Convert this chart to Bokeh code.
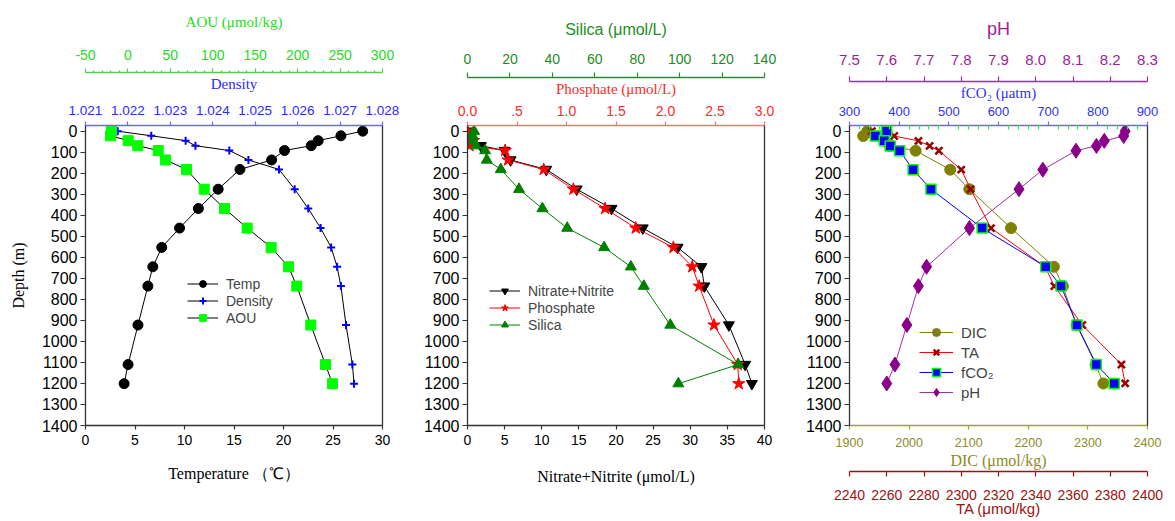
from bokeh.plotting import figure
from bokeh.models import (Range1d, LinearAxis, FixedTicker, PrintfTickFormatter,
                          CustomJSTickFormatter, Legend, LegendItem, Label)
from bokeh.layouts import row
from bokeh.embed import file_html
from bokeh.resources import INLINE

SANS = "Liberation Sans"
SERIF = "Liberation Serif"

# ---------------- data ----------------
depth_ab = [0, 22, 45, 69, 92, 137, 182, 276, 368, 461, 553, 645, 737, 922, 1110, 1201]
temperature = [28.0, 25.8, 23.5, 22.8, 20.1, 18.8, 15.6, 13.4, 11.4, 9.5, 7.7, 6.8, 6.3, 5.3, 4.3, 3.9]
density = [1.02176, 1.02255, 1.02336, 1.02359, 1.02439, 1.02484, 1.02556, 1.02593,
           1.02625, 1.02654, 1.02679, 1.02693, 1.02702, 1.02714, 1.02729, 1.02733]
aou = [-19.4, -20.5, 0.3, 11.6, 35.7, 44.3, 69.0, 89.9, 113.8, 140.5, 168.8, 189.2,
       199.0, 215.5, 232.8, 241.0]

nitrate_nitrite = [0.1, 0.2, 0.4, 1.8, 5.0, 5.8, 10.6, 14.7, 19.4, 23.6, 28.3, 31.5,
                   31.9, 35.2, 37.4, 38.3]
phosphate = [0.0, 0.03, 0.06, 0.02, 0.38, 0.41, 0.77, 1.07, 1.39, 1.70, 2.08, 2.27,
             2.34, 2.49, 2.73, 2.74]
silica = [3.1, 2.4, 2.8, 4.0, 8.3, 9.1, 15.7, 24.3, 35.3, 47.0, 64.4, 77.0, 83.1,
          95.6, 127.6, 99.4]

depth_c = [0, 23, 46, 70, 93, 183, 276, 461, 645, 737, 922, 1110, 1200]
dic = [1930, 1923, 1958, 1968, 2011, 2069, 2101, 2171, 2243, 2258, 2281, 2313, 2326]
ta = [2252, 2264, 2277, 2283, 2288, 2300, 2305, 2316, 2345, 2350, 2365, 2386, 2388]
fco2 = [375, 352, 370, 382, 401, 428, 464, 567, 695, 726, 758, 797, 833]
ph = [8.240, 8.236, 8.184, 8.163, 8.108, 8.019, 7.955, 7.822, 7.707, 7.685, 7.654,
      7.622, 7.600]

depth_ticks = list(range(0, 1401, 100))
temp_ticks = list(range(0, 31, 5))
density_ticks = [1.021, 1.022, 1.023, 1.024, 1.025, 1.026, 1.027, 1.028]
aou_ticks = list(range(-50, 301, 50))
aou_minor = [v for v in range(-50, 301, 10) if v % 50 != 0]
nitrate_ticks = list(range(0, 41, 5))
phosphate_ticks = [0.0, 0.5, 1.0, 1.5, 2.0, 2.5, 3.0]
silica_ticks = list(range(0, 141, 20))
dic_ticks = list(range(1900, 2401, 100))
ta_ticks = list(range(2240, 2401, 20))
fco2_ticks = list(range(300, 901, 100))
fco2_minor = [v for v in range(300, 901, 20) if v % 100 != 0]
ph_ticks = [7.5, 7.6, 7.7, 7.8, 7.9, 8.0, 8.1, 8.2, 8.3]

# ---------------- colours ----------------
AOU_T, AOU_L = "#22DD22", "#55CC55"
DEN_T, DEN_L = "#2B2BFF", "#6A6AFF"
PHO_T, PHO_L = "#FF2A2A", "#FF7070"
SIL_T, SIL_L = "#1E8C1E", "#2E8B2E"
PH_T, PH_L = "#A01E96", "#A0309A"
FCO_T, FCO_L = "#3030FF", "#6A6AFF"
DIC_T, DIC_L = "#8C8C1E", "#A0A040"
TA_T, TA_L = "#A01010", "#A01010"
AX = "#333333"

H = 520


def style(ax, color, line_color, ticks, tick_size, label, label_font, label_size,
          tick_out, lab_standoff, title_standoff, minor=None, minor_color=None,
          minor_in=0, minor_out=0, fmt=None, tick_font=SANS):
    ax.ticker = FixedTicker(ticks=ticks, minor_ticks=minor or [])
    if fmt is not None:
        ax.formatter = fmt
    ax.axis_line_color = line_color
    ax.axis_line_width = 1.3
    ax.major_tick_line_color = line_color
    ax.major_tick_line_width = 1.2
    ax.major_tick_out = tick_out
    ax.major_tick_in = 0
    if minor:
        ax.minor_tick_line_color = minor_color or line_color
        ax.minor_tick_line_width = 1.2
        ax.minor_tick_in = minor_in
        ax.minor_tick_out = minor_out
    else:
        ax.minor_tick_line_color = None
        ax.minor_tick_in = 0
        ax.minor_tick_out = 0
    ax.major_label_text_color = color
    ax.major_label_text_font = tick_font
    ax.major_label_text_font_size = tick_size
    ax.major_label_standoff = lab_standoff
    if label:
        ax.axis_label = label
        ax.axis_label_text_color = color
        ax.axis_label_text_font = label_font
        ax.axis_label_text_font_size = label_size
        ax.axis_label_text_font_style = "normal"
        ax.axis_label_standoff = title_standoff


def spacer(h):
    return LinearAxis(ticker=FixedTicker(ticks=[]), axis_line_color=None,
                      major_tick_out=h, major_tick_in=0, minor_tick_out=0,
                      minor_tick_in=0, major_tick_line_color=None,
                      minor_tick_line_color=None, major_label_standoff=0)


def make_fig(width, left, right, xr):
    p = figure(width=width, height=H, x_range=xr, y_range=Range1d(1400, -27),
               output_backend="svg", toolbar_location=None,
               min_border_left=left, min_border_right=right,
               min_border_top=125, min_border_bottom=H - 125 - 300)
    p.xgrid.visible = False
    p.ygrid.visible = False
    p.outline_line_color = None
    right_ax = LinearAxis(ticker=FixedTicker(ticks=[]), axis_line_color=AX,
                          axis_line_width=1.3, major_tick_out=0, major_tick_in=0,
                          minor_tick_out=0, minor_tick_in=0, major_label_standoff=0)
    p.add_layout(right_ax, "right")
    return p


def style_depth(p, with_label):
    style(p.yaxis[0], "black", AX, depth_ticks, "16px",
          "Depth (m)" if with_label else None, SERIF, "16px", 5, 3, 12)


def make_legend(items, loc, lh, gw, size):
    return Legend(items=items, location=loc, orientation="vertical",
                  border_line_color=None, background_fill_alpha=0, padding=0,
                  margin=0, spacing=0, label_height=lh, glyph_height=lh,
                  glyph_width=gw, label_standoff=8, label_text_font=SANS,
                  label_text_font_size=size)


def panel_label(p, x, text):
    p.add_layout(Label(x=x, y=-8, text=text, text_font=SANS, text_font_size="15px",
                       text_baseline="middle", text_align="left", text_color="black"))


# ================= panel (a) =================
pa = make_fig(420, 85, 38, Range1d(0, 30))
pa.extra_x_ranges = {"den": Range1d(1.021, 1.028), "aou": Range1d(-50, 300)}
style_depth(pa, True)
style(pa.xaxis[0], "black", AX, temp_ticks, "14px", "Temperature （℃）", SERIF, "16px",
      4, 5, 17)
ax_den = LinearAxis(x_range_name="den")
style(ax_den, DEN_T, DEN_L, density_ticks, "13.5px", "Density", SERIF, "15px", 4, 7, 11,
      fmt=PrintfTickFormatter(format="%.3f"))
ax_aou = LinearAxis(x_range_name="aou")
style(ax_aou, AOU_T, AOU_L, aou_ticks, "14px", "AOU (μmol/kg)", SERIF, "15px", 4, 9, 17,
      minor=aou_minor, minor_out=2, fmt=PrintfTickFormatter(format="%d"))
pa.add_layout(ax_den, "above")
pa.add_layout(spacer(12), "above")
pa.add_layout(ax_aou, "above")

l_t = pa.line(temperature, depth_ab, line_color="black", line_width=1)
s_t = pa.scatter(temperature, depth_ab, marker="circle", size=10, fill_color="black",
                 line_color="black")
l_d = pa.line(density, depth_ab, x_range_name="den", line_color="black", line_width=1)
s_d = pa.scatter(density, depth_ab, x_range_name="den", marker="cross", size=8,
                 line_color="#0000FF", line_width=2)
l_a = pa.line(aou, depth_ab, x_range_name="aou", line_color="black", line_width=1)
s_a = pa.scatter(aou, depth_ab, x_range_name="aou", marker="square", size=10,
                 fill_color="#00FF00", line_color="#00FF00")
pa.add_layout(make_legend([LegendItem(label="Temp", renderers=[l_t, s_t]),
                           LegendItem(label="Density", renderers=[l_d, s_d]),
                           LegendItem(label="AOU", renderers=[l_a, s_a])],
                          (102, 99), 17, 31, "14px"))
panel_label(pa, 30.5, "(a)")

# ================= panel (b) =================
pb = make_fig(380, 47, 36, Range1d(0, 40))
pb.extra_x_ranges = {"pho": Range1d(0, 3), "sil": Range1d(0, 140)}
style_depth(pb, False)
style(pb.xaxis[0], "black", AX, nitrate_ticks, "14px", "Nitrate+Nitrite (μmol/L)", SERIF,
      "16px", 4, 5, 20)
ax_pho = LinearAxis(x_range_name="pho")
style(ax_pho, PHO_T, PHO_L, phosphate_ticks, "14px", "Phosphate (μmol/L)", SERIF, "15px",
      4, 6, 6, fmt=CustomJSTickFormatter(code="return tick == 0.5 ? '.5' : tick.toFixed(1);"))
ax_sil = LinearAxis(x_range_name="sil")
style(ax_sil, SIL_T, SIL_L, silica_ticks, "14px", "Silica (μmol/L)", SANS, "16px",
      5, 9, 13)
pb.add_layout(ax_pho, "above")
pb.add_layout(spacer(4), "above")
pb.add_layout(ax_sil, "above")

l_n = pb.line(nitrate_nitrite, depth_ab, line_color="black", line_width=1)
s_n = pb.scatter(nitrate_nitrite, depth_ab, marker="inverted_triangle", size=11,
                 fill_color="black", line_color="black")
l_p = pb.line(phosphate, depth_ab, x_range_name="pho", line_color="#FF0000", line_width=1)
s_p = pb.scatter(phosphate, depth_ab, x_range_name="pho", marker="star", size=13,
                 fill_color="#FF0000", line_color="#FF0000")
l_s = pb.line(silica, depth_ab, x_range_name="sil", line_color="#008000", line_width=1)
s_s = pb.scatter(silica, depth_ab, x_range_name="sil", marker="triangle", size=11,
                 fill_color="#008000", line_color="#008000")
pb.add_layout(make_legend([LegendItem(label="Nitrate+Nitrite", renderers=[l_n, s_n]),
                           LegendItem(label="Phosphate", renderers=[l_p, s_p]),
                           LegendItem(label="Silica", renderers=[l_s, s_s])],
                          (22, 92), 17, 31, "14px"))
panel_label(pb, 40.6, "(b)")

# ================= panel (c) =================
pc = make_fig(374, 49, 27, Range1d(1900, 2400))
pc.extra_x_ranges = {"ta": Range1d(2240, 2400), "fco2": Range1d(300, 900),
                     "ph": Range1d(7.5, 8.3)}
style_depth(pc, False)
style(pc.xaxis[0], DIC_T, DIC_L, dic_ticks, "12.5px", "DIC (μmol/kg)", SERIF, "16px",
      4, 8, 2)
ax_ta = LinearAxis(x_range_name="ta")
style(ax_ta, TA_T, TA_L, ta_ticks, "14px", "TA (μmol/kg)", SANS, "15px", 5, 13, -3)
pc.add_layout(spacer(11), "below")
pc.add_layout(ax_ta, "below")
ax_f = LinearAxis(x_range_name="fco2")
style(ax_f, FCO_T, FCO_L, fco2_ticks, "13px", "fCO₂ (μatm)", SERIF, "15px", 4, 6, 3,
      minor=fco2_minor, minor_color="#33EE33", minor_in=4, minor_out=0)
ax_ph = LinearAxis(x_range_name="ph")
style(ax_ph, PH_T, PH_L, ph_ticks, "15px", "pH", SANS, "18px", 5, 12, 13,
      fmt=PrintfTickFormatter(format="%.1f"))
pc.add_layout(ax_f, "above")
pc.add_layout(spacer(10), "above")
pc.add_layout(ax_ph, "above")

l_dic = pc.line(dic, depth_c, line_color="#808000", line_width=1)
s_dic = pc.scatter(dic, depth_c, marker="circle", size=11, fill_color="#808000",
                   line_color="#808000")
l_ta = pc.line(ta, depth_c, x_range_name="ta", line_color="#FF0000", line_width=1)
s_ta = pc.scatter(ta, depth_c, x_range_name="ta", marker="x", size=10,
                  line_color="#990000", line_width=2.5)
l_f = pc.line(fco2, depth_c, x_range_name="fco2", line_color="#0000FF", line_width=1)
s_f = pc.scatter(fco2, depth_c, x_range_name="fco2", marker="square", size=10,
                 fill_color="#0000FF", line_color="#00FF00", line_width=1.5)
l_ph = pc.line(ph, depth_c, x_range_name="ph", line_color=PH_L, line_width=1)
s_ph = pc.scatter(ph, depth_c, x_range_name="ph", marker="diamond", size=15,
                  fill_color="#8B008B", line_color="#8B008B")
pc.add_layout(make_legend([LegendItem(label="DIC", renderers=[l_dic, s_dic]),
                           LegendItem(label="TA", renderers=[l_ta, s_ta]),
                           LegendItem(label="fCO₂", renderers=[l_f, s_f]),
                           LegendItem(label="pH", renderers=[l_ph, s_ph])],
                          (70, 23), 20, 34, "15px"))
panel_label(pc, 2408.5, "(c)")

layout = row(pa, pb, pc)
open("out.html", "w").write(file_html(layout, INLINE))
